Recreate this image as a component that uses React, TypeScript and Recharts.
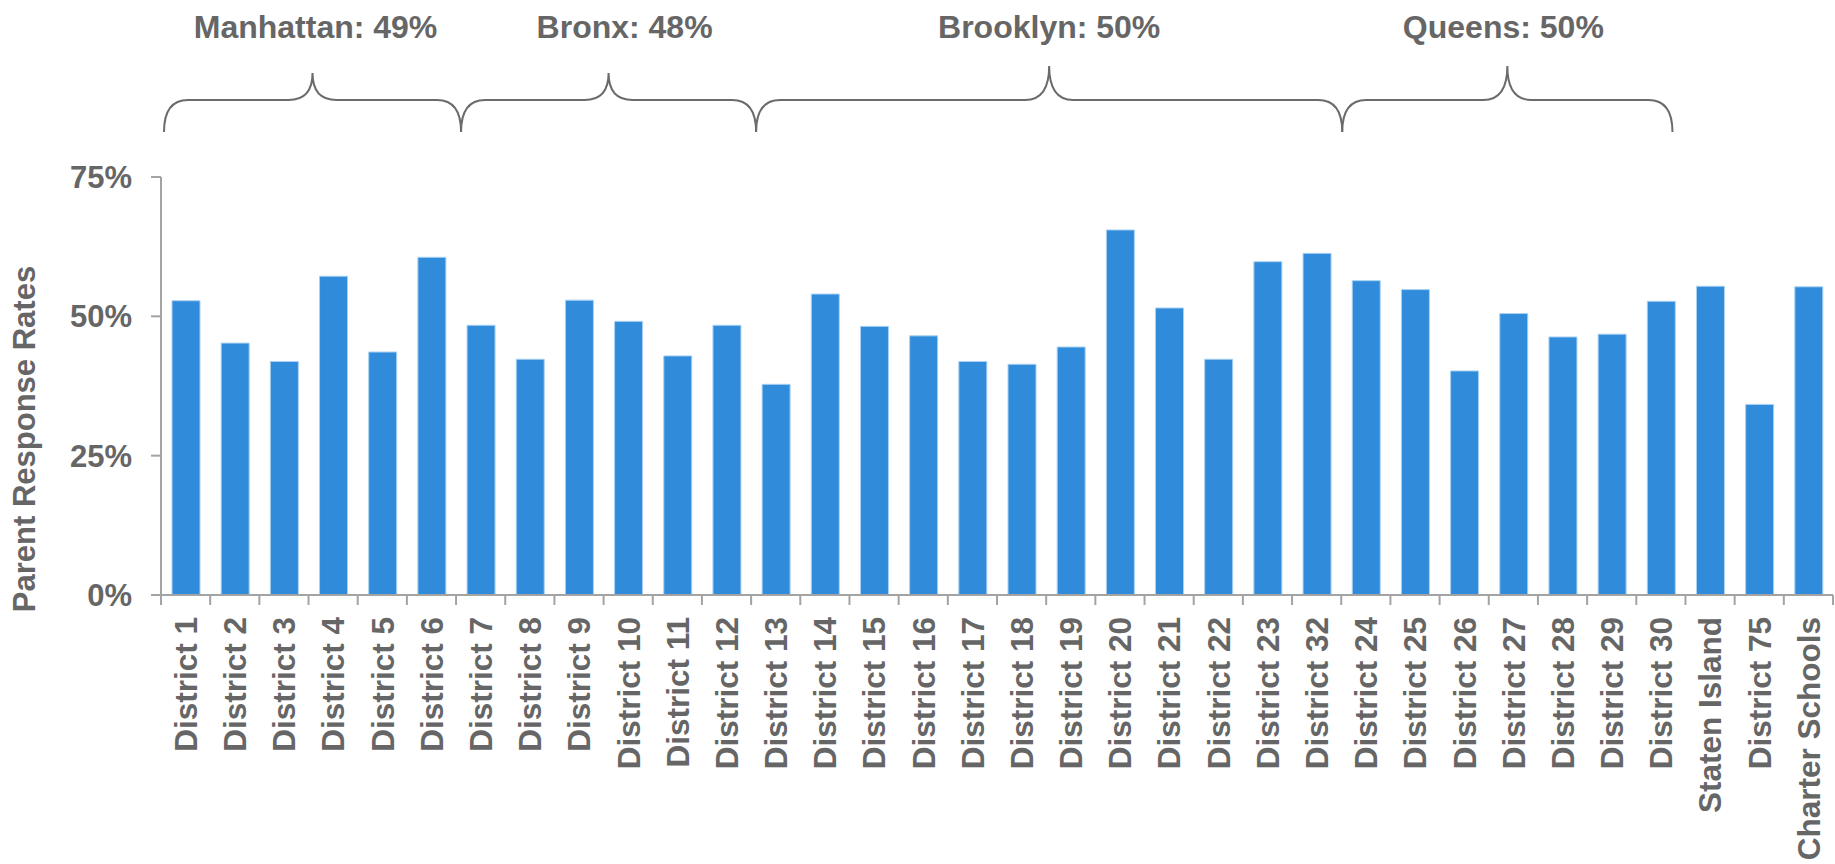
import React from "react"
import {
  BarChart,
  Bar,
  XAxis,
  YAxis,
  ReferenceArea,
} from "recharts"

const districts = [
  "District 1", "District 2", "District 3", "District 4", "District 5", "District 6",
  "District 7", "District 8", "District 9", "District 10", "District 11", "District 12",
  "District 13", "District 14", "District 15", "District 16", "District 17", "District 18",
  "District 19", "District 20", "District 21", "District 22", "District 23", "District 32",
  "District 24", "District 25", "District 26", "District 27", "District 28", "District 29",
  "District 30", "Staten Island", "District 75", "Charter Schools",
]

const responseRates = [
  52.8, 45.2, 41.9, 57.2, 43.6, 60.6,
  48.4, 42.3, 52.9, 49.1, 42.9, 48.4,
  37.8, 54.0, 48.2, 46.5, 41.9, 41.4,
  44.5, 65.5, 51.5, 42.3, 59.8, 61.3,
  56.4, 54.8, 40.2, 50.5, 46.3, 46.8,
  52.7, 55.4, 34.2, 55.3,
]

const yTicks = [0, 25, 50, 75]

const boroughs = [
  { label: "Manhattan: 49%", from: "District 1", to: "District 6" },
  { label: "Bronx: 48%", from: "District 7", to: "District 12" },
  { label: "Brooklyn: 50%", from: "District 13", to: "District 32" },
  { label: "Queens: 50%", from: "District 24", to: "District 30" },
]

// small hand nudges so the braces sit like the original drawing
const braceLayout: Record<string, { dl: number; dr: number; peak: number; ldx: number }> = {
  "Manhattan: 49%": { dl: 3, dr: 5, peak: 73, ldx: 3 },
  "Bronx: 48%": { dl: 5, dr: 5, peak: 73, ldx: 16 },
  "Brooklyn: 50%": { dl: 5, dr: 1, peak: 66, ldx: 0 },
  "Queens: 50%": { dl: 1, dr: -13, peak: 66, ldx: -4 },
}

const data = districts.map((name, i) => ({ name, rate: responseRates[i] }))

const W = 1835
const H = 864
const MARGIN = { top: 177, right: 2, bottom: 9, left: 61 }
const Y_AXIS_W = 100
const BAND = (W - MARGIN.left - Y_AXIS_W - MARGIN.right) / districts.length

const TEXT = "#666666"
const AXIS = "#a3a3a3"
const FONT = "'Liberation Sans', Arial, sans-serif"

const DistrictTick = (props: any) => {
  const { x, y, payload, index } = props
  const half = BAND / 2
  const ty = y + 22
  return (
    <g>
      <line x1={x - half} x2={x - half} y1={y} y2={y + 10} stroke={AXIS} strokeWidth={2} />
      {index === districts.length - 1 && (
        <line x1={x + half} x2={x + half} y1={y} y2={y + 10} stroke={AXIS} strokeWidth={2} />
      )}
      <text
        x={x}
        y={ty}
        transform={`rotate(-90 ${x} ${ty})`}
        textAnchor="end"
        dy="0.36em"
        fill={TEXT}
        fontSize={31.5}
        fontWeight="bold"
        fontFamily={FONT}
      >
        {payload.value}
      </text>
    </g>
  )
}

// curly brace over a borough's districts, label on top
const Brace = (props: any) => {
  const { x, width, label } = props
  const lay = braceLayout[label] || { dl: 0, dr: 0, peak: 70, ldx: 0 }
  const xl = x + lay.dl
  const xr = x + width + lay.dr
  const xm = (xl + xr) / 2
  const bottom = 132
  const mid = 100
  const peak = lay.peak
  const r = 24
  const d = [
    `M ${xl} ${bottom}`,
    `Q ${xl} ${mid} ${xl + r} ${mid}`,
    `L ${xm - r} ${mid}`,
    `Q ${xm} ${mid} ${xm} ${peak}`,
    `Q ${xm} ${mid} ${xm + r} ${mid}`,
    `L ${xr - r} ${mid}`,
    `Q ${xr} ${mid} ${xr} ${bottom}`,
  ].join(" ")
  return (
    <g>
      <path d={d} fill="none" stroke="#6b6b6b" strokeWidth={2} />
      <text
        x={xm + lay.ldx}
        y={38}
        textAnchor="middle"
        fill={TEXT}
        fontSize={32}
        fontWeight="bold"
        fontFamily={FONT}
      >
        {label}
      </text>
    </g>
  )
}

const App = () => {
  return (
    <div style={{ position: "absolute", left: 0, top: 0, width: W, height: H, background: "#fff" }}>
      <BarChart width={W} height={H} data={data} margin={MARGIN}>
        <XAxis
          dataKey="name"
          interval={0}
          height={260}
          tickSize={0}
          tickMargin={0}
          tickLine={false}
          axisLine={{ stroke: AXIS, strokeWidth: 2 }}
          tick={<DistrictTick />}
        />
        <YAxis
          width={Y_AXIS_W}
          domain={[0, 75]}
          ticks={yTicks}
          tickFormatter={(v: number) => `${v}%`}
          tickSize={10}
          tickMargin={19}
          axisLine={{ stroke: AXIS, strokeWidth: 2 }}
          tickLine={{ stroke: AXIS, strokeWidth: 2 }}
          tick={{ fill: TEXT, fontSize: 31, fontWeight: "bold", fontFamily: FONT }}
          label={{
            content: () => (
              <text
                x={35}
                y={439}
                transform="rotate(-90 35 439)"
                textAnchor="middle"
                fill={TEXT}
                fontSize={31}
                fontWeight="bold"
                fontFamily={FONT}
              >
                Parent Response Rates
              </text>
            ),
          }}
        />
        {boroughs.map((b) => (
          <ReferenceArea
            key={b.label}
            x1={b.from}
            x2={b.to}
            y1={84}
            y2={94}
            ifOverflow="visible"
            shape={(p: any) => <Brace {...p} label={b.label} />}
          />
        ))}
        <Bar
          dataKey="rate"
          fill="#308cda"
          stroke="#a9d1f3"
          strokeWidth={1}
          barSize={28}
          isAnimationActive={false}
        />
      </BarChart>
    </div>
  )
}

export default App
